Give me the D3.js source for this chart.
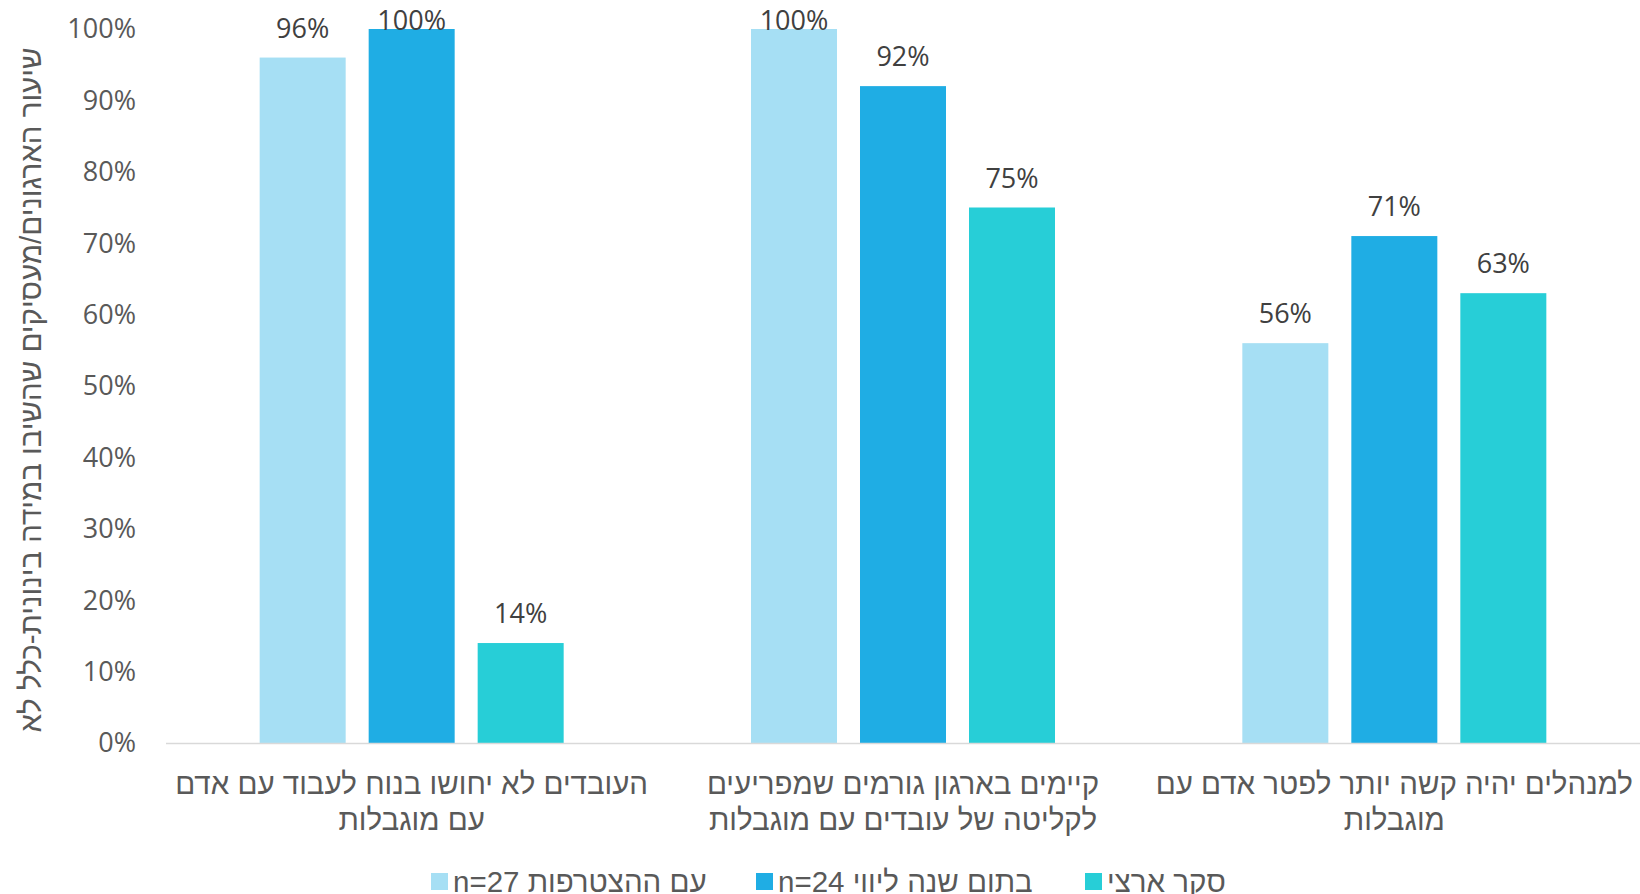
<!DOCTYPE html>
<html>
<head>
<meta charset="utf-8">
<script src="https://cdn.jsdelivr.net/npm/d3@7"></script>
<style>
  body { margin: 0; background: #fff; }
  svg text { font-family: "Open Sans", "Noto Sans", sans-serif; }
  svg text.heb { font-family: "Liberation Sans", "DejaVu Sans", sans-serif; }
</style>
</head>
<body>
<svg id="chart" width="1640" height="894"></svg>
<script>
// categories, two lines each
var categories = [
  ["העובדים לא יחושו בנוח לעבוד עם אדם", "עם מוגבלות"],
  ["קיימים בארגון גורמים שמפריעים", "לקליטה של עובדים עם מוגבלות"],
  ["למנהלים יהיה קשה יותר לפטר אדם עם", "מוגבלות"]
];
var seriesNames = ["עם ההצטרפות n=27", "בתום שנה ליווי n=24", "סקר ארצי"];
var joinValues = [96, 100, 56];
var yearValues = [100, 92, 71];
var nationalValues = [14, 75, 63];
var yTicks = [0, 10, 20, 30, 40, 50, 60, 70, 80, 90, 100];
var yTitle = "שיעור הארגונים/מעסיקים שהשיבו במידה בינונית-כלל לא";

var colors = ["#A6DFF4", "#1FADE4", "#27CED7"];
var seriesValues = [joinValues, yearValues, nationalValues];

var svg = d3.select("svg#chart"),
    plotLeft = 166, plotRight = 1640, plotTop = 29, plotBottom = 743;

var x0 = d3.scaleBand()
    .domain(d3.range(categories.length))
    .range([plotLeft, plotRight]);

var groupW = 304;
var x1 = d3.scaleBand()
    .domain(d3.range(seriesNames.length))
    .range([0, groupW])
    .paddingInner(0.211);

var y = d3.scaleLinear()
    .domain([0, 100])
    .range([plotBottom, plotTop]);

// y tick labels
svg.append("g")
    .selectAll("text")
    .data(yTicks)
    .enter().append("text")
    .attr("x", 136)
    .attr("y", function (d) { return y(d); })
    .attr("dy", "0.35em")
    .attr("text-anchor", "end")
    .attr("fill", "#595959")
    .style("font-size", "27px")
    .text(function (d) { return d + "%"; });

// y title
svg.append("text")
    .attr("class", "heb")
    .attr("transform", "translate(31," + ((plotTop + plotBottom) / 2 + 4) + ") rotate(-90)")
    .attr("dy", "0.35em")
    .attr("text-anchor", "middle")
    .attr("direction", "rtl")
    .attr("fill", "#595959")
    .style("font-size", "29.5px")
    .text(yTitle);

// bars
var groups = svg.selectAll(".grp")
    .data(categories)
    .enter().append("g")
    .attr("class", "grp")
    .attr("transform", function (d, i) {
        return "translate(" + (x0(i) + (x0.bandwidth() - groupW) / 2) + ",0)";
    });

function cells(d, i) {
    return seriesValues.map(function (s, j) { return { s: j, v: s[i] }; });
}

groups.selectAll("rect")
    .data(cells)
    .enter().append("rect")
    .attr("x", function (d) { return x1(d.s); })
    .attr("y", function (d) { return y(d.v); })
    .attr("width", x1.bandwidth())
    .attr("height", function (d) { return y(0) - y(d.v); })
    .attr("fill", function (d) { return colors[d.s]; });

groups.selectAll(".lbl")
    .data(cells)
    .enter().append("text")
    .attr("class", "lbl")
    .attr("x", function (d) { return x1(d.s) + x1.bandwidth() / 2; })
    .attr("y", function (d) { return Math.max(y(d.v) - 20, 30); })
    .attr("text-anchor", "middle")
    .attr("fill", "#404040")
    .style("font-size", "27px")
    .text(function (d) { return d.v + "%"; });

// x axis line
svg.append("line")
    .attr("x1", plotLeft).attr("x2", plotRight)
    .attr("y1", y(0) + 0.5).attr("y2", y(0) + 0.5)
    .attr("stroke", "#D9D9D9")
    .attr("stroke-width", 1.5);

// category labels
var cat = svg.selectAll(".cat")
    .data(categories)
    .enter().append("text")
    .attr("class", "cat heb")
    .attr("text-anchor", "middle")
    .attr("direction", "rtl")
    .attr("fill", "#595959")
    .style("font-size", "29.5px");

cat.selectAll("tspan")
    .data(function (d, i) { return d.map(function (t) { return { t: t, i: i }; }); })
    .enter().append("tspan")
    .attr("x", function (d) { return x0(d.i) + x0.bandwidth() / 2; })
    .attr("y", function (d, k) { return 794 + k * 36; })
    .text(function (d) { return d.t; });

// legend
var legX = [431, 756, 1085];
var leg = svg.selectAll(".leg")
    .data(seriesNames)
    .enter().append("g")
    .attr("class", "leg")
    .attr("transform", function (d, i) { return "translate(" + legX[i] + ",873)"; });

leg.append("rect")
    .attr("width", 17).attr("height", 17)
    .attr("fill", function (d, i) { return colors[i]; });

leg.append("text")
    .attr("class", "heb")
    .attr("x", 22)
    .attr("y", 8.5)
    .attr("dy", "0.35em")
    .attr("text-anchor", "end")
    .attr("direction", "rtl")
    .attr("fill", "#595959")
    .style("font-size", "29.5px")
    .text(function (d) { return d; });
</script>
</body>
</html>
